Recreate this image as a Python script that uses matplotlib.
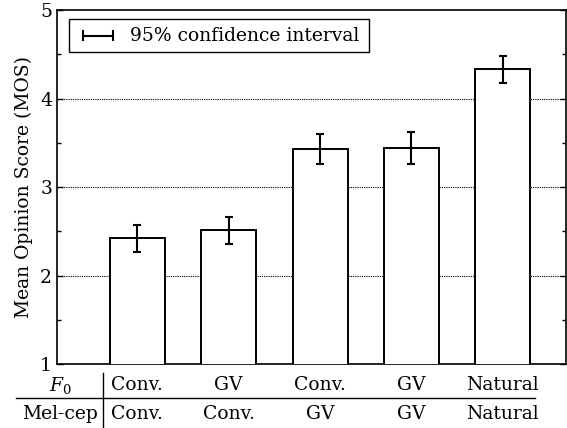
import matplotlib
matplotlib.use("Agg")
import matplotlib.pyplot as plt
from matplotlib.lines import Line2D
from matplotlib.patches import Rectangle
from matplotlib.ticker import MultipleLocator
import matplotlib.transforms as mtransforms

plt.rcParams['font.family'] = ['DejaVu Serif']
plt.rcParams['mathtext.fontset'] = 'dejavuserif'

f0_labels = ["Conv.", "GV", "Conv.", "GV", "Natural"]
melcep_labels = ["Conv.", "Conv.", "GV", "GV", "Natural"]
mos = [2.42, 2.51, 3.43, 3.44, 4.33]
ci95 = [0.155, 0.15, 0.17, 0.18, 0.15]

fs = 13.5
fig = plt.figure(figsize=(5.67, 4.28), dpi=100)
ax = fig.add_axes([0.1005, 0.1495, 0.8975, 0.827])

x = list(range(len(mos)))
ax.bar(x, mos, width=0.6, bottom=0, color='white', edgecolor='black',
       linewidth=1.4, zorder=3)
ax.errorbar(x, mos, yerr=ci95, fmt='none', ecolor='black', elinewidth=1.5,
            capsize=3.2, capthick=1.5, zorder=4)

ax.set_xlim(-0.88, 4.69)
ax.set_ylim(1, 5)
ax.yaxis.set_major_locator(MultipleLocator(1))
ax.yaxis.set_minor_locator(MultipleLocator(0.5))
ax.set_xticks([])
ax.tick_params(axis='y', which='both', direction='in', left=True, right=True,
               labelsize=fs, width=1)
ax.tick_params(axis='y', which='major', length=4)
ax.tick_params(axis='y', which='minor', length=3)
for yv in [2, 3, 4]:
    ax.axhline(yv, color='black', linestyle=(0, (1, 1)), linewidth=0.8, zorder=1)
for s in ax.spines.values():
    s.set_linewidth(1.2)
ax.set_ylabel("Mean Opinion Score (MOS)", fontsize=fs, labelpad=5)

# legend box
ax.add_patch(Rectangle((0.0236, 0.881), 0.589, 0.094, transform=ax.transAxes,
                       fill=False, edgecolor='black', linewidth=1, zorder=5))
ly = 0.928
ax.add_line(Line2D([0.051, 0.110], [ly, ly], transform=ax.transAxes,
                   color='black', linewidth=1.5, zorder=6))
for xc in [0.051, 0.110]:
    ax.add_line(Line2D([xc, xc], [ly - 0.012, ly + 0.012], transform=ax.transAxes,
                       color='black', linewidth=1.5, zorder=6))
ax.text(0.143, ly, "95% confidence interval", transform=ax.transAxes,
        fontsize=fs, va='center', ha='left', zorder=6)

# condition table below axis
trans = mtransforms.blended_transform_factory(ax.transData, fig.transFigure)
y_f0 = 1 - 385.5 / 428
y_mc = 1 - 414 / 428
for xi, a, b in zip(x, f0_labels, melcep_labels):
    fig.text(xi, y_f0, a, transform=trans, ha='center', va='center', fontsize=fs)
    fig.text(xi, y_mc, b, transform=trans, ha='center', va='center', fontsize=fs)
fig.text(60 / 567, y_f0, r"$\mathit{F}_0$", ha='center', va='center', fontsize=fs)
fig.text(60 / 567, y_mc, "Mel-cep", ha='center', va='center', fontsize=fs)
fig.add_artist(Line2D([16 / 567, 535 / 567], [1 - 398 / 428, 1 - 398 / 428],
                      transform=fig.transFigure, color='black', linewidth=1))
fig.add_artist(Line2D([103 / 567, 103 / 567], [1 - 373 / 428, 0],
                      transform=fig.transFigure, color='black', linewidth=1))

fig.savefig("out.png", dpi=100)
